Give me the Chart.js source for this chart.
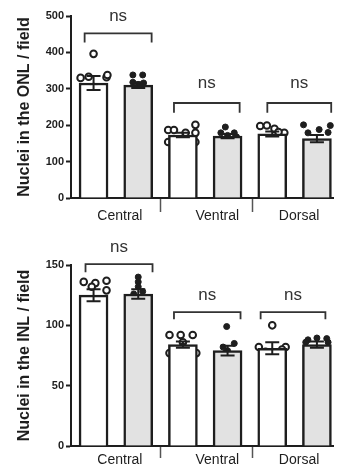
<!DOCTYPE html>
<html>
<head>
<meta charset="utf-8">
<script src="https://cdn.jsdelivr.net/npm/chart.js@4"></script>
<style>
  html, body { margin: 0; padding: 0; background: #fff; }
  .box { position: absolute; left: 0; width: 339px; }
  #topBox { top: 0; height: 225px; }
  #botBox { top: 225px; height: 243px; }
</style>
</head>
<body>
<div class="box" id="topBox"><canvas id="onlChart"></canvas></div>
<div class="box" id="botBox"><canvas id="inlChart"></canvas></div>
<script>
// 區域 / x 軸
const regions = ['Central', 'Ventral', 'Dorsal'];
const regionLabelPos = [0.59, 2.77, 4.6];
const regionSeparators = [1.5, 3.55];
const barPos = [0, 1, 2, 3, 4, 5];   // 每區兩組 (白 / 灰)

// ONL
const onlTicks = [0, 100, 200, 300, 400, 500];
const onlMean = [316, 310, 173, 170, 176, 163];
const onlSem = [19, 8, 6, 6, 7, 10];
const onlPoints = [
  [396, 330, 333, 332, 338, 305, 247],
  [338, 338, 318, 316, 312, 292, 292],
  [187, 187, 179, 201, 179, 154, 154],
  [195, 179, 179, 172, 168, 151, 160],
  [198, 199, 190, 179, 181, 160, 146],
  [201, 179, 188, 180, 199, 127, 133]
];
const onlJitter = [
  [0, -0.29, -0.11, 0.29, 0.31, 0, 0],
  [-0.12, 0.1, -0.12, 0.12, 0, -0.12, 0.1],
  [-0.33, -0.2, 0.06, 0.28, 0.28, -0.33, 0.28],
  [-0.05, 0.15, -0.15, 0, 0.2, -0.05, 0.15],
  [-0.27, -0.12, 0.05, 0.27, 0.14, 0, -0.1],
  [-0.3, -0.2, 0.05, 0.25, 0.3, -0.1, 0.12]
];
const onlBracketL = [-0.2, 1.8, 3.89];
const onlBracketR = [1.3, 3.27, 5.32];
const onlBracketTop = [452, 261, 261];
const onlBracketBot = [427, 234, 234];
const onlNsY = [500, 316, 316];

// INL
const inlTicks = [0, 50, 100, 150];
const inlMean = [125, 126, 84, 79, 81, 84];
const inlSem = [5, 4, 2.5, 4, 5, 2.5];
const inlPoints = [
  [136, 135, 137, 132, 129, 108.5, 110],
  [140, 136, 132, 128, 126, 121, 104],
  [92, 92, 92, 86, 82, 77, 77],
  [99, 85, 82, 79, 74, 67, 77],
  [100, 82, 82, 80, 78, 77, 60],
  [88, 89.5, 89, 86, 86, 74, 74]
];
const inlJitter = [
  [-0.22, 0.04, 0.29, -0.04, 0.29, -0.13, 0.18],
  [0, 0, 0, 0.1, -0.1, 0, 0],
  [-0.3, -0.05, 0.22, 0, 0, -0.3, 0.3],
  [-0.02, 0.15, -0.1, 0, 0.1, 0, -0.05],
  [0, -0.3, 0.3, 0.22, -0.15, 0.22, 0],
  [-0.2, 0, 0.22, -0.25, 0.25, -0.15, 0.15]
];
const inlBracketL = [-0.18, 1.8, 3.74];
const inlBracketR = [1.32, 3.29, 5.19];
const inlBracketTop = [150.8, 111, 111];
const inlBracketBot = [144, 105, 105];
const inlNsY = [165, 125, 125];

const FONT = "'Liberation Sans', Arial, sans-serif";
const INK = '#1e1e1e';

// 誤差線 + ns 標記
const extrasPlugin = {
  id: 'extras',
  afterDatasetsDraw(chart, args, opts) {
    const { ctx } = chart;
    const xs = chart.scales.x, ys = chart.scales.y;
    ctx.save();
    ctx.strokeStyle = INK;
    ctx.lineWidth = 2;
    opts.mean.forEach((m, i) => {
      const px = xs.getPixelForValue(barPos[i]);
      const hi = ys.getPixelForValue(m + opts.sem[i]);
      const lo = ys.getPixelForValue(m - opts.sem[i]);
      ctx.beginPath();
      ctx.moveTo(px, hi); ctx.lineTo(px, lo);
      ctx.moveTo(px - 7, hi); ctx.lineTo(px + 7, hi);
      ctx.moveTo(px - 7, lo); ctx.lineTo(px + 7, lo);
      ctx.stroke();
    });
    ctx.fillStyle = '#333';
    ctx.font = '17px ' + FONT;
    ctx.textAlign = 'center';
    ctx.textBaseline = 'middle';
    opts.nsY.forEach((v, i) => {
      const cx = (xs.getPixelForValue(opts.bl[i]) + xs.getPixelForValue(opts.br[i])) / 2;
      ctx.fillText('ns', cx, ys.getPixelForValue(v));
    });
    ctx.restore();
  }
};

function makeChart(id, d) {
  const datasets = [{
    type: 'bar',
    data: barPos.map((x, i) => ({ x, y: d.mean[i] })),
    backgroundColor: barPos.map(i => i % 2 ? '#e2e2e2' : '#ffffff'),
    borderColor: INK,
    borderWidth: 2.5,
    barThickness: 29
  }];
  d.points.forEach((arr, i) => {
    const filled = i % 2 === 1;
    datasets.push({
      type: 'scatter',
      data: arr.map((v, k) => ({ x: barPos[i] + d.jitter[i][k], y: v })),
      pointRadius: filled ? 3 : 3.3,
      pointBackgroundColor: filled ? INK : '#ffffff',
      pointBorderColor: INK,
      pointBorderWidth: filled ? 1 : 2,
      clip: false
    });
  });
  d.bl.forEach((l, i) => {
    datasets.push({
      type: 'line',
      data: [
        { x: l, y: d.bb[i] }, { x: l, y: d.bt[i] },
        { x: d.br[i], y: d.bt[i] }, { x: d.br[i], y: d.bb[i] }
      ],
      borderColor: '#333',
      borderWidth: 1.8,
      pointRadius: 0,
      fill: false,
      tension: 0,
      clip: false
    });
  });

  new Chart(document.getElementById(id), {
    type: 'bar',
    data: { datasets },
    plugins: [extrasPlugin],
    options: {
      responsive: true,
      maintainAspectRatio: false,
      animation: false,
      layout: { padding: { top: d.padTop, right: 0, left: 0, bottom: 0 } },
      plugins: {
        legend: { display: false },
        tooltip: { enabled: false },
        extras: { mean: d.mean, sem: d.sem, nsY: d.nsY, bl: d.bl, br: d.br }
      },
      scales: {
        x: {
          type: 'linear',
          offset: false,
          min: -0.505,
          max: 5.36,
          afterBuildTicks: axis => {
            axis.ticks = regionLabelPos.concat(regionSeparators)
              .sort((a, b) => a - b).map(v => ({ value: v }));
          },
          afterFit: axis => { axis.height = d.xHeight; },
          grid: {
            drawOnChartArea: false,
            offset: false,
            tickLength: d.xTickLen,
            tickWidth: 1.5,
            tickColor: c => (c.tick && regionSeparators.includes(c.tick.value)) ? '#555' : 'transparent'
          },
          border: { color: INK, width: 2 },
          ticks: {
            autoSkip: false,
            maxRotation: 0,
            padding: d.xPad,
            color: INK,
            font: { family: FONT, size: 14 },
            callback: v => {
              const k = regionLabelPos.indexOf(v);
              return k >= 0 ? regions[k] : '';
            }
          }
        },
        y: {
          min: 0,
          max: d.ticks[d.ticks.length - 1],
          afterBuildTicks: axis => { axis.ticks = d.ticks.map(v => ({ value: v })); },
          afterFit: axis => { axis.width = 71; },
          grid: { drawOnChartArea: false, tickLength: 5, tickWidth: 2, tickColor: INK },
          border: { color: INK, width: 2 },
          ticks: {
            padding: 2,
            color: INK,
            font: { family: FONT, size: 11, weight: 'bold' }
          },
          title: {
            display: true,
            text: d.title,
            color: INK,
            padding: { top: 15, bottom: 4 },
            font: { family: FONT, size: 16, weight: 'bold' }
          }
        }
      }
    }
  });
}

makeChart('onlChart', {
  mean: onlMean, sem: onlSem, points: onlPoints, jitter: onlJitter,
  bl: onlBracketL, br: onlBracketR, bt: onlBracketTop, bb: onlBracketBot, nsY: onlNsY,
  ticks: onlTicks, title: 'Nuclei in the ONL / field',
  padTop: 16, xHeight: 27, xTickLen: 14, xPad: -4
});

makeChart('inlChart', {
  mean: inlMean, sem: inlSem, points: inlPoints, jitter: inlJitter,
  bl: inlBracketL, br: inlBracketR, bt: inlBracketTop, bb: inlBracketBot, nsY: inlNsY,
  ticks: inlTicks, title: 'Nuclei in the INL / field',
  padTop: 40, xHeight: 22, xTickLen: 12, xPad: -6
});
</script>
</body>
</html>
